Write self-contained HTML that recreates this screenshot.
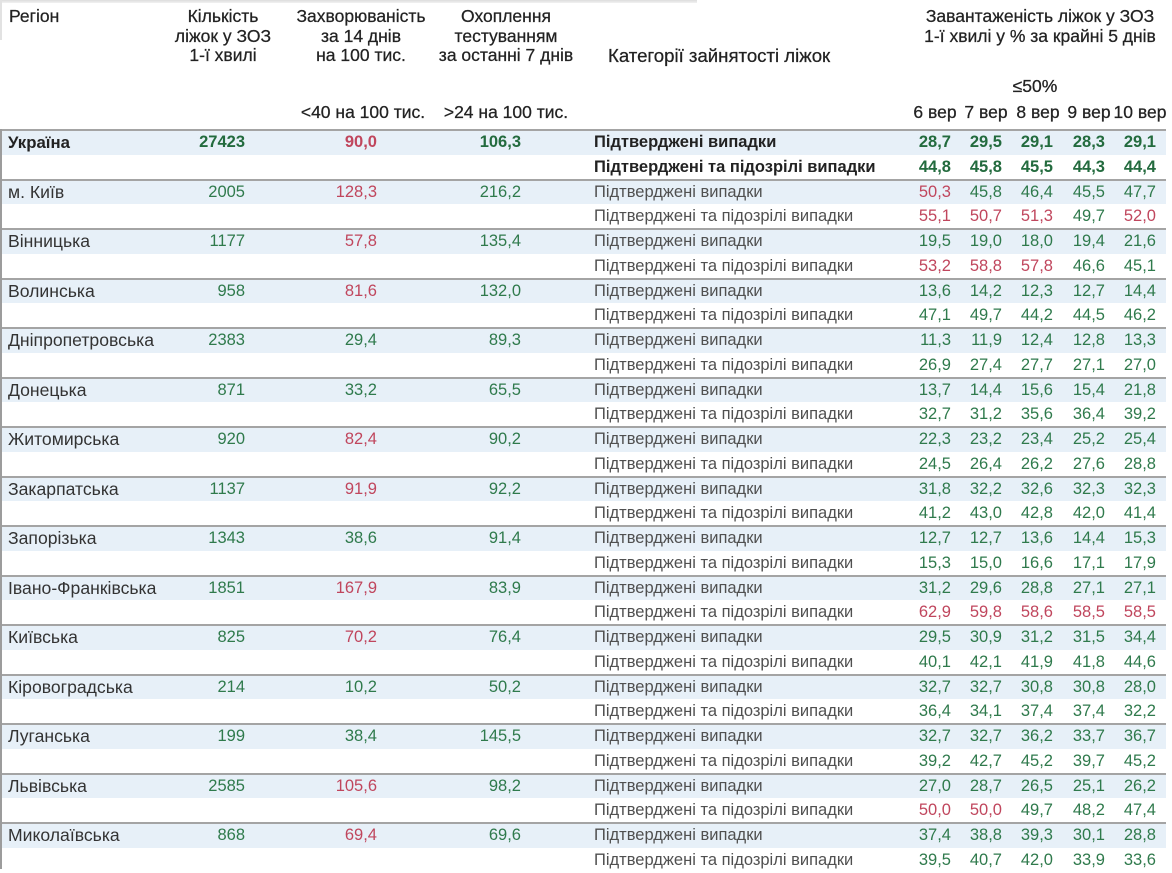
<!DOCTYPE html>
<html><head><meta charset="utf-8">
<style>
body{margin:0;width:1172px;height:869px;overflow:hidden;background:#fff;font-family:"Liberation Sans",sans-serif;position:relative}
.h{position:absolute;font-size:17.5px;line-height:19.5px;color:#222;white-space:nowrap;-webkit-text-stroke:0.25px #222}
.hc{text-align:center}
.r{position:absolute;left:0;width:1172px;height:49.5px}
.ln{position:absolute;left:0;top:-1px;width:1166px;height:2px;background:#a4a4a4}
.bb{position:absolute;left:0;top:1px;width:1166px;height:23.5px;background:#e7f0f8}
.x{position:absolute;top:0;line-height:25px;font-size:16.5px;white-space:nowrap}
.s{top:24.75px}
.n{left:8px;color:#333;font-size:17.6px}
.k{left:594px;color:#505050}
.rb{right:927px}.ri{right:795px}.rt{right:651px}
.c1{right:221px}.c2{right:170px}.c3{right:119px}.c4{right:67px}.c5{right:16px}
.g{color:#2f7a4c}.d{color:#c0465d}
.B .x{font-weight:bold}
.B .n{font-size:16.8px}
.B .n,.B .k{color:#222}
.B .g{color:#236b3e}
</style></head><body>
<div style="position:absolute;left:0;top:0;width:697px;height:3px;background:linear-gradient(#dcdcdc,#f2f2f2)"></div>
<div style="position:absolute;left:0;top:0;width:2px;height:40px;background:#e2e2e2"></div>

<div class="h" style="left:9px;top:7px">Регіон</div>
<div class="h hc" style="left:123px;top:7px;width:200px">Кількість<br>ліжок у ЗОЗ<br>1-ї хвилі</div>
<div class="h hc" style="left:261px;top:7px;width:200px">Захворюваність<br>за 14 днів<br>на 100 тис.</div>
<div class="h hc" style="left:406px;top:7px;width:200px">Охоплення<br>тестуванням<br>за останні 7 днів</div>
<div class="h" style="left:608px;top:46px;font-size:18.6px">Категорії зайнятості ліжок</div>
<div class="h hc" style="left:900px;top:7px;width:280px">Завантаженість ліжок у ЗОЗ<br>1-ї хвилі у % за крайні 5 днів</div>
<div class="h hc" style="left:985px;top:76.5px;width:100px">≤50%</div>
<div class="h hc" style="left:263px;top:102.5px;width:200px">&lt;40 на 100 тис.</div>
<div class="h hc" style="left:406px;top:102.5px;width:200px">&gt;24 на 100 тис.</div>
<div class="h hc" style="left:900px;top:102.5px;width:70px">6 вер</div>
<div class="h hc" style="left:951px;top:102.5px;width:70px">7 вер</div>
<div class="h hc" style="left:1003px;top:102.5px;width:70px">8 вер</div>
<div class="h hc" style="left:1054px;top:102.5px;width:70px">9 вер</div>
<div class="h hc" style="left:1105px;top:102.5px;width:70px">10 вер</div>

<div class="r B" style="top:130px"><div class="bb"></div><div class="ln"></div>
<span class="x n">Україна</span><span class="x rb g">27423</span><span class="x ri d">90,0</span><span class="x rt g">106,3</span>
<span class="x k">Підтверджені випадки</span><span class="x c1 g">28,7</span><span class="x c2 g">29,5</span><span class="x c3 g">29,1</span><span class="x c4 g">28,3</span><span class="x c5 g">29,1</span>
<span class="x s k">Підтверджені та підозрілі випадки</span><span class="x s c1 g">44,8</span><span class="x s c2 g">45,8</span><span class="x s c3 g">45,5</span><span class="x s c4 g">44,3</span><span class="x s c5 g">44,4</span>
</div>

<div class="r" style="top:179.5px"><div class="bb"></div><div class="ln"></div>
<span class="x n">м. Київ</span><span class="x rb g">2005</span><span class="x ri d">128,3</span><span class="x rt g">216,2</span>
<span class="x k">Підтверджені випадки</span><span class="x c1 d">50,3</span><span class="x c2 g">45,8</span><span class="x c3 g">46,4</span><span class="x c4 g">45,5</span><span class="x c5 g">47,7</span>
<span class="x s k">Підтверджені та підозрілі випадки</span><span class="x s c1 d">55,1</span><span class="x s c2 d">50,7</span><span class="x s c3 d">51,3</span><span class="x s c4 g">49,7</span><span class="x s c5 d">52,0</span>
</div>

<div class="r" style="top:229px"><div class="bb"></div><div class="ln"></div>
<span class="x n">Вінницька</span><span class="x rb g">1177</span><span class="x ri d">57,8</span><span class="x rt g">135,4</span>
<span class="x k">Підтверджені випадки</span><span class="x c1 g">19,5</span><span class="x c2 g">19,0</span><span class="x c3 g">18,0</span><span class="x c4 g">19,4</span><span class="x c5 g">21,6</span>
<span class="x s k">Підтверджені та підозрілі випадки</span><span class="x s c1 d">53,2</span><span class="x s c2 d">58,8</span><span class="x s c3 d">57,8</span><span class="x s c4 g">46,6</span><span class="x s c5 g">45,1</span>
</div>

<div class="r" style="top:278.5px"><div class="bb"></div><div class="ln"></div>
<span class="x n">Волинська</span><span class="x rb g">958</span><span class="x ri d">81,6</span><span class="x rt g">132,0</span>
<span class="x k">Підтверджені випадки</span><span class="x c1 g">13,6</span><span class="x c2 g">14,2</span><span class="x c3 g">12,3</span><span class="x c4 g">12,7</span><span class="x c5 g">14,4</span>
<span class="x s k">Підтверджені та підозрілі випадки</span><span class="x s c1 g">47,1</span><span class="x s c2 g">49,7</span><span class="x s c3 g">44,2</span><span class="x s c4 g">44,5</span><span class="x s c5 g">46,2</span>
</div>

<div class="r" style="top:328px"><div class="bb"></div><div class="ln"></div>
<span class="x n">Дніпропетровська</span><span class="x rb g">2383</span><span class="x ri g">29,4</span><span class="x rt g">89,3</span>
<span class="x k">Підтверджені випадки</span><span class="x c1 g">11,3</span><span class="x c2 g">11,9</span><span class="x c3 g">12,4</span><span class="x c4 g">12,8</span><span class="x c5 g">13,3</span>
<span class="x s k">Підтверджені та підозрілі випадки</span><span class="x s c1 g">26,9</span><span class="x s c2 g">27,4</span><span class="x s c3 g">27,7</span><span class="x s c4 g">27,1</span><span class="x s c5 g">27,0</span>
</div>

<div class="r" style="top:377.5px"><div class="bb"></div><div class="ln"></div>
<span class="x n">Донецька</span><span class="x rb g">871</span><span class="x ri g">33,2</span><span class="x rt g">65,5</span>
<span class="x k">Підтверджені випадки</span><span class="x c1 g">13,7</span><span class="x c2 g">14,4</span><span class="x c3 g">15,6</span><span class="x c4 g">15,4</span><span class="x c5 g">21,8</span>
<span class="x s k">Підтверджені та підозрілі випадки</span><span class="x s c1 g">32,7</span><span class="x s c2 g">31,2</span><span class="x s c3 g">35,6</span><span class="x s c4 g">36,4</span><span class="x s c5 g">39,2</span>
</div>

<div class="r" style="top:427px"><div class="bb"></div><div class="ln"></div>
<span class="x n">Житомирська</span><span class="x rb g">920</span><span class="x ri d">82,4</span><span class="x rt g">90,2</span>
<span class="x k">Підтверджені випадки</span><span class="x c1 g">22,3</span><span class="x c2 g">23,2</span><span class="x c3 g">23,4</span><span class="x c4 g">25,2</span><span class="x c5 g">25,4</span>
<span class="x s k">Підтверджені та підозрілі випадки</span><span class="x s c1 g">24,5</span><span class="x s c2 g">26,4</span><span class="x s c3 g">26,2</span><span class="x s c4 g">27,6</span><span class="x s c5 g">28,8</span>
</div>

<div class="r" style="top:476.5px"><div class="bb"></div><div class="ln"></div>
<span class="x n">Закарпатська</span><span class="x rb g">1137</span><span class="x ri d">91,9</span><span class="x rt g">92,2</span>
<span class="x k">Підтверджені випадки</span><span class="x c1 g">31,8</span><span class="x c2 g">32,2</span><span class="x c3 g">32,6</span><span class="x c4 g">32,3</span><span class="x c5 g">32,3</span>
<span class="x s k">Підтверджені та підозрілі випадки</span><span class="x s c1 g">41,2</span><span class="x s c2 g">43,0</span><span class="x s c3 g">42,8</span><span class="x s c4 g">42,0</span><span class="x s c5 g">41,4</span>
</div>

<div class="r" style="top:526px"><div class="bb"></div><div class="ln"></div>
<span class="x n">Запорізька</span><span class="x rb g">1343</span><span class="x ri g">38,6</span><span class="x rt g">91,4</span>
<span class="x k">Підтверджені випадки</span><span class="x c1 g">12,7</span><span class="x c2 g">12,7</span><span class="x c3 g">13,6</span><span class="x c4 g">14,4</span><span class="x c5 g">15,3</span>
<span class="x s k">Підтверджені та підозрілі випадки</span><span class="x s c1 g">15,3</span><span class="x s c2 g">15,0</span><span class="x s c3 g">16,6</span><span class="x s c4 g">17,1</span><span class="x s c5 g">17,9</span>
</div>

<div class="r" style="top:575.5px"><div class="bb"></div><div class="ln"></div>
<span class="x n">Івано-Франківська</span><span class="x rb g">1851</span><span class="x ri d">167,9</span><span class="x rt g">83,9</span>
<span class="x k">Підтверджені випадки</span><span class="x c1 g">31,2</span><span class="x c2 g">29,6</span><span class="x c3 g">28,8</span><span class="x c4 g">27,1</span><span class="x c5 g">27,1</span>
<span class="x s k">Підтверджені та підозрілі випадки</span><span class="x s c1 d">62,9</span><span class="x s c2 d">59,8</span><span class="x s c3 d">58,6</span><span class="x s c4 d">58,5</span><span class="x s c5 d">58,5</span>
</div>

<div class="r" style="top:625px"><div class="bb"></div><div class="ln"></div>
<span class="x n">Київська</span><span class="x rb g">825</span><span class="x ri d">70,2</span><span class="x rt g">76,4</span>
<span class="x k">Підтверджені випадки</span><span class="x c1 g">29,5</span><span class="x c2 g">30,9</span><span class="x c3 g">31,2</span><span class="x c4 g">31,5</span><span class="x c5 g">34,4</span>
<span class="x s k">Підтверджені та підозрілі випадки</span><span class="x s c1 g">40,1</span><span class="x s c2 g">42,1</span><span class="x s c3 g">41,9</span><span class="x s c4 g">41,8</span><span class="x s c5 g">44,6</span>
</div>

<div class="r" style="top:674.5px"><div class="bb"></div><div class="ln"></div>
<span class="x n">Кіровоградська</span><span class="x rb g">214</span><span class="x ri g">10,2</span><span class="x rt g">50,2</span>
<span class="x k">Підтверджені випадки</span><span class="x c1 g">32,7</span><span class="x c2 g">32,7</span><span class="x c3 g">30,8</span><span class="x c4 g">30,8</span><span class="x c5 g">28,0</span>
<span class="x s k">Підтверджені та підозрілі випадки</span><span class="x s c1 g">36,4</span><span class="x s c2 g">34,1</span><span class="x s c3 g">37,4</span><span class="x s c4 g">37,4</span><span class="x s c5 g">32,2</span>
</div>

<div class="r" style="top:724px"><div class="bb"></div><div class="ln"></div>
<span class="x n">Луганська</span><span class="x rb g">199</span><span class="x ri g">38,4</span><span class="x rt g">145,5</span>
<span class="x k">Підтверджені випадки</span><span class="x c1 g">32,7</span><span class="x c2 g">32,7</span><span class="x c3 g">36,2</span><span class="x c4 g">33,7</span><span class="x c5 g">36,7</span>
<span class="x s k">Підтверджені та підозрілі випадки</span><span class="x s c1 g">39,2</span><span class="x s c2 g">42,7</span><span class="x s c3 g">45,2</span><span class="x s c4 g">39,7</span><span class="x s c5 g">45,2</span>
</div>

<div class="r" style="top:773.5px"><div class="bb"></div><div class="ln"></div>
<span class="x n">Львівська</span><span class="x rb g">2585</span><span class="x ri d">105,6</span><span class="x rt g">98,2</span>
<span class="x k">Підтверджені випадки</span><span class="x c1 g">27,0</span><span class="x c2 g">28,7</span><span class="x c3 g">26,5</span><span class="x c4 g">25,1</span><span class="x c5 g">26,2</span>
<span class="x s k">Підтверджені та підозрілі випадки</span><span class="x s c1 d">50,0</span><span class="x s c2 d">50,0</span><span class="x s c3 g">49,7</span><span class="x s c4 g">48,2</span><span class="x s c5 g">47,4</span>
</div>

<div class="r" style="top:823px"><div class="bb"></div><div class="ln"></div>
<span class="x n">Миколаївська</span><span class="x rb g">868</span><span class="x ri d">69,4</span><span class="x rt g">69,6</span>
<span class="x k">Підтверджені випадки</span><span class="x c1 g">37,4</span><span class="x c2 g">38,8</span><span class="x c3 g">39,3</span><span class="x c4 g">30,1</span><span class="x c5 g">28,8</span>
<span class="x s k">Підтверджені та підозрілі випадки</span><span class="x s c1 g">39,5</span><span class="x s c2 g">40,7</span><span class="x s c3 g">42,0</span><span class="x s c4 g">33,9</span><span class="x s c5 g">33,6</span>
</div>

<div style="position:absolute;left:0;top:129px;width:2px;height:740px;background:#9c9c9c;z-index:5"></div>
</body></html>
